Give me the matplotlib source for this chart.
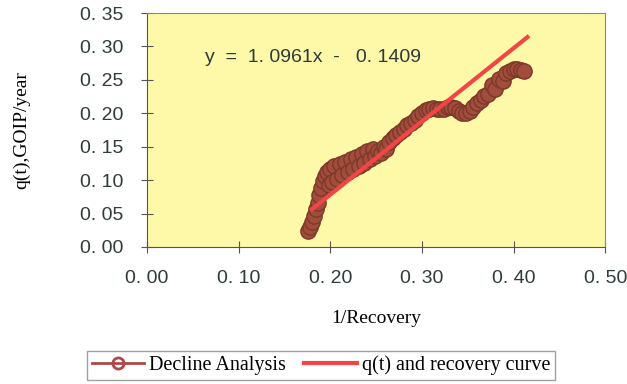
import matplotlib.pyplot as plt
import numpy as np

# Decline analysis points (1/Recovery vs q(t))
recovery_inv = [0.176, 0.178, 0.180, 0.182, 0.184, 0.186, 0.188, 0.190, 0.192, 0.194,
                0.196, 0.198, 0.200, 0.202, 0.204, 0.207, 0.210, 0.213, 0.216, 0.219,
                0.222, 0.225, 0.228, 0.231, 0.234, 0.237, 0.240, 0.243, 0.246, 0.249,
                0.252, 0.255, 0.258, 0.261, 0.264, 0.268, 0.272, 0.276, 0.280, 0.284,
                0.288, 0.292, 0.296, 0.300, 0.304, 0.308, 0.312, 0.316, 0.320, 0.324,
                0.328, 0.332, 0.336, 0.340, 0.344, 0.348, 0.352, 0.356, 0.360, 0.364,
                0.368, 0.372, 0.376, 0.380, 0.384, 0.388, 0.392, 0.396, 0.400, 0.404,
                0.408, 0.411]
q_t = [0.024, 0.030, 0.037, 0.046, 0.056, 0.066, 0.077, 0.088, 0.098, 0.106,
       0.112, 0.093, 0.117, 0.097, 0.121, 0.102, 0.124, 0.107, 0.127, 0.112,
       0.131, 0.116, 0.135, 0.121, 0.139, 0.126, 0.143, 0.131, 0.146, 0.136,
       0.144, 0.141, 0.150, 0.147, 0.157, 0.163, 0.168, 0.172, 0.177, 0.182,
       0.186, 0.190, 0.196, 0.201, 0.205, 0.207, 0.208, 0.207, 0.206, 0.207,
       0.209, 0.210, 0.208, 0.204, 0.200, 0.200, 0.204, 0.210, 0.215, 0.220,
       0.226, 0.229, 0.242, 0.237, 0.251, 0.248, 0.261, 0.263, 0.266, 0.266,
       0.265, 0.263]

# linear fit y = 1.0961x - 0.1409
slope = 1.0961
intercept = -0.1409
fit_x = np.array([0.18, 0.415])
fit_y = slope * fit_x + intercept

fig = plt.figure(figsize=(6.27, 3.84), dpi=100)
fig.patch.set_facecolor('white')
ax = fig.add_axes([0.2345, 0.357, 0.731, 0.609])
ax.set_facecolor('#fdf9a8')

ax.plot(recovery_inv, q_t, color='#9c4636', marker='o', markersize=11,
        markerfacecolor='#a24c3c', markeredgecolor='#7c3828', markeredgewidth=1.0,
        linewidth=2, label='Decline Analysis')
ax.plot(fit_x, fit_y, color='#f04646', linewidth=3, label='q(t) and recovery curve')

ax.text(0.063, 0.284, 'y  =  1. 0961x  -   0. 1409', fontsize=14, family='Liberation Sans',
        color='#2f3b3b', va='center')

ax.set_xlim(0, 0.5)
ax.set_ylim(0, 0.35)
xt = [0.0, 0.1, 0.2, 0.3, 0.4, 0.5]
yt = [0.0, 0.05, 0.1, 0.15, 0.2, 0.25, 0.3, 0.35]
ax.set_xticks(xt)
ax.set_xticklabels(['0. %02d' % round(v * 100) for v in xt])
ax.set_yticks(yt)
ax.set_yticklabels(['0. %02d' % round(v * 100) for v in yt])
ax.tick_params(direction='inout', length=8, color='#555555', labelsize=14,
               labelcolor='#2f3b3b')
ax.tick_params(axis='x', pad=12.5)
ax.tick_params(axis='y', pad=13)
for lab in ax.get_xticklabels() + ax.get_yticklabels():
    lab.set_family('Liberation Sans')
for s in ax.spines.values():
    s.set_color('#888888')
ax.spines['left'].set_color('#555555')
ax.spines['bottom'].set_color('#555555')

ax.set_xlabel('1/Recovery', family='Liberation Serif', fontsize=14, labelpad=17)
ax.set_ylabel('q(t),GOIP/year', family='Liberation Serif', fontsize=14, labelpad=36)

leg = ax.legend(loc='upper left', bbox_to_anchor=(-0.131, -0.443), ncol=2, frameon=True,
                fancybox=False, edgecolor='#888888', handlelength=2.6, handletextpad=0.25,
                columnspacing=0.9, borderpad=0.25, borderaxespad=0,
                prop={'family': 'Liberation Serif', 'size': 14.5})
for h in leg.get_lines():
    if h.get_marker() == 'o':
        h.set_markerfacecolor('none')
        h.set_markeredgecolor('#b04848')
        h.set_color('#b04848')
        h.set_markersize(8)
        h.set_markeredgewidth(2)

fig.savefig('out.png', dpi=100)
